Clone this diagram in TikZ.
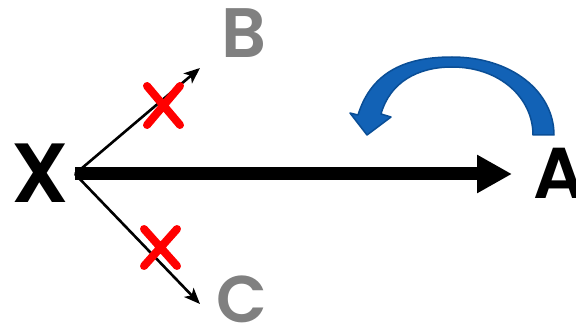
\documentclass[tikz,border=0pt]{standalone}
\usepackage{fontspec}
\setmainfont{Poppins}
\newfontfamily\letterfont{Poppins SemiBold}
\usetikzlibrary{arrows.meta}
\definecolor{lettergray}{RGB}{128,128,128}
\definecolor{crossred}{RGB}{255,0,0}
\definecolor{bluefill}{RGB}{18,98,182}
\definecolor{blueline}{RGB}{10,78,150}
\tikzset{
  letter/.style={inner sep=0pt, font=\letterfont\fontsize{#1}{#1}\selectfont},
  thinarrow/.style={line width=2.6pt, -{Stealth[length=16pt,width=13pt,inset=4pt]}},
  mainarrow/.style={line width=13pt, -{Triangle[length=35pt,width=36pt]}},
  cross/.style={line width=8pt, line cap=round, color=crossred},
  bluearrow/.style={fill=bluefill, draw=blueline, line width=1.5pt, line join=round}
}
\begin{document}
\begin{tikzpicture}[x=1pt,y=-1pt]
\useasboundingbox (0,0) rectangle (576,334);
\clip (0,0) rectangle (576,334);
% letters
\node[letter=84pt, text=black] (X) at (40,173) {X};
\node[letter=72pt, text=black, anchor=west] (A) at (533,173) {A};
\node[letter=70pt, text=lettergray] (B) at (244,33) {B};
\node[letter=66pt, text=lettergray] (C) at (242,299) {C};
% connector points
\coordinate (o) at (75,174);
\coordinate (bt) at (200,68);
\coordinate (ct) at (200,304);
\coordinate (at) at (512,174);
\draw[mainarrow] (o) -- (at);
\draw[thinarrow] (o) -- (bt);
\draw[thinarrow] (o) -- (ct);
% red crosses
\draw[cross] (147,86) -- (180,125) (180,86) -- (147,125);
\draw[cross] (144,229) -- (177,266) (177,229) -- (144,266);
% blue curved arrow
\draw[bluearrow]
  (358,115) .. controls (372,70) and (408,57) .. (452,57)
  .. controls (512,57) and (554,92) .. (554,135)
  -- (533,135)
  .. controls (533,98) and (500,67) .. (452,67)
  .. controls (418,67) and (390,82) .. (381,114)
  -- (391,117) -- (367,135) -- (350,113) -- cycle;
\end{tikzpicture}
\end{document}
